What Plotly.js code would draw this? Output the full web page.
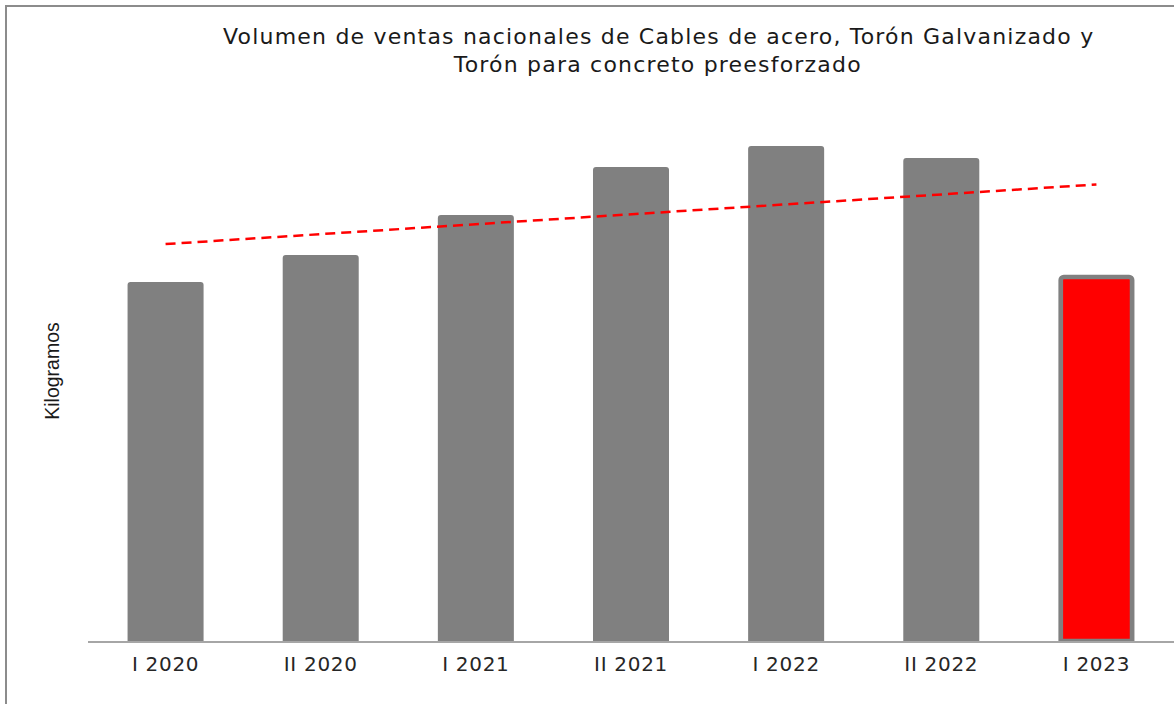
<!DOCTYPE html>
<html>
<head>
<meta charset="utf-8">
<script src="https://cdn.plot.ly/plotly-3.0.1.min.js"></script>
<style>
  html, body { margin: 0; padding: 0; background: #fff; overflow: hidden; }
  #chart { width: 1174px; height: 704px; position: absolute; left: 0; top: 0; }
  #frame { position: absolute; left: 5px; top: 5px; width: 1300px; height: 800px;
           border-left: 2px solid #8c8c8c; border-top: 2px solid #8c8c8c; pointer-events: none; }
  #chart .gtitle, #chart .annotation-text { letter-spacing: 1.2px; }
  #chart .xtick text { letter-spacing: 0.7px; }
</style>
</head>
<body>
<div id="chart"></div>
<div id="frame"></div>
<script>
// Periods (semesters)
const categories = ["I 2020", "II 2020", "I 2021", "II 2021", "I 2022", "II 2022", "I 2023"];
// Sales volume (kilograms, relative values; no axis scale shown)
const ventas = [3590, 3860, 4260, 4740, 4950, 4830, 3640];
const barColors = ["#808080", "#808080", "#808080", "#808080", "#808080", "#808080", "#ff0000"];
const barWidths = [0.49, 0.49, 0.49, 0.49, 0.49, 0.49, 0.46];
const lineWidths = [0, 0, 0, 0, 0, 0, 4.7];
const titleLine1 = "Volumen de ventas nacionales de Cables de acero, Torón Galvanizado y";
const titleLine2 = "Torón para concreto preesforzado";

// Linear trend (least squares over all periods)
const n = ventas.length;
const xs = ventas.map((_, i) => i);
const mx = xs.reduce((a, b) => a + b, 0) / n;
const my = ventas.reduce((a, b) => a + b, 0) / n;
let num = 0, den = 0;
for (let i = 0; i < n; i++) { num += (xs[i] - mx) * (ventas[i] - my); den += (xs[i] - mx) ** 2; }
const slope = num / den;
const intercept = my - slope * mx;
const tendencia = xs.map(x => intercept + slope * x);

const titleFont = { family: "DejaVu Sans, Verdana, sans-serif", size: 22, color: "#1a1a1a" };

const data = [
  {
    type: "bar",
    x: categories,
    y: ventas,
    width: barWidths,
    marker: {
      color: barColors,
      line: { color: "#808080", width: lineWidths },
      cornerradius: 3
    },
    hoverinfo: "x+y",
    showlegend: false
  },
  {
    type: "scatter",
    mode: "lines",
    x: categories,
    y: tendencia,
    line: { color: "#ff0000", width: 2.5, dash: "10px,6px" },
    hoverinfo: "skip",
    showlegend: false
  }
];

const layout = {
  width: 1174,
  height: 704,
  paper_bgcolor: "#ffffff",
  plot_bgcolor: "#ffffff",
  margin: { l: 88, r: 0, t: 101, b: 63 },
  title: {
    text: titleLine1,
    font: titleFont,
    xref: "paper",
    x: 0.5255,
    xanchor: "center",
    yref: "container",
    y: 0.9489,
    yanchor: "middle"
  },
  annotations: [
    {
      text: titleLine2,
      font: titleFont,
      xref: "paper",
      yref: "paper",
      x: 0.524,
      y: 1.0685,
      xanchor: "center",
      yanchor: "middle",
      showarrow: false
    }
  ],
  xaxis: {
    type: "category",
    showline: true,
    linecolor: "#a6a6a6",
    linewidth: 2,
    ticks: "",
    ticklabelstandoff: 4,
    showgrid: false,
    zeroline: false,
    tickfont: { family: "DejaVu Sans, Verdana, sans-serif", size: 20, color: "#262626" },
    range: [-0.5, 6.5]
  },
  yaxis: {
    range: [0, 5400],
    showticklabels: false,
    showgrid: false,
    zeroline: false,
    showline: false,
    ticks: "",
    title: {
      text: "Kilogramos",
      font: { family: "Liberation Sans, Arial, sans-serif", size: 19.5, color: "#1a1a1a" },
      standoff: 22
    }
  }
};

Plotly.newPlot("chart", data, layout, { displayModeBar: false, staticPlot: true });
</script>
</body>
</html>
